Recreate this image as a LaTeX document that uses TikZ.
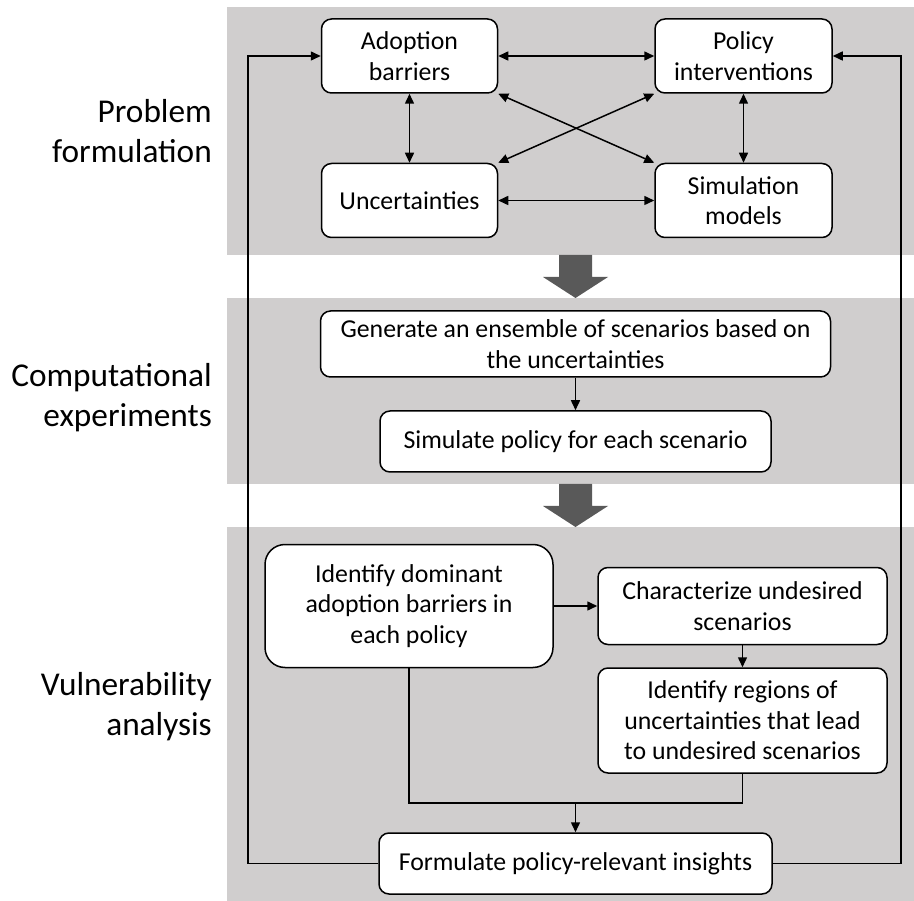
\documentclass[tikz,border=0pt]{standalone}
\usepackage{fontspec}
\setmainfont{Carlito}
\usetikzlibrary{positioning, arrows.meta}
\definecolor{bandgray}{HTML}{D0CECE}
\definecolor{bigarrow}{HTML}{595959}
\tikzstyle{band} = [fill=bandgray, draw=none]
\tikzstyle{box} = [rectangle, rounded corners=10pt, draw=black, line width=1.5pt, fill=white, align=center, inner sep=0pt, font=\fontsize{25.8}{30.5}\selectfont]
\tikzstyle{phase} = [anchor=east, align=right, inner sep=0pt, font=\fontsize{33.3}{40}\selectfont]
\tikzstyle{arrow} = [line width=1.5pt, -{Triangle[length=10pt,width=9pt]}]
\tikzstyle{twoway} = [line width=1.5pt, {Triangle[length=10pt,width=9pt]}-{Triangle[length=10pt,width=9pt]}]
\tikzstyle{link} = [line width=1.5pt]

\begin{document}
\begin{tikzpicture}[x=1pt, y=-1pt]
        \useasboundingbox (0,0) rectangle (914,901);

        % phase bands
        \fill[band] (227,7)   rectangle (914,255);
        \fill[band] (227,298) rectangle (914,484);
        \fill[band] (227,527) rectangle (914,901);

        % big arrows between phases
        \fill[bigarrow] (559,255) -- (592,255) -- (592,277) -- (608,277) -- (575.5,298) -- (543,277) -- (559,277) -- cycle;
        \fill[bigarrow] (559,484) -- (592,484) -- (592,506) -- (608,506) -- (575.5,527) -- (543,506) -- (559,506) -- cycle;

        \node[phase] (problem)   at (212,131.5) {Problem\\formulation};
        \node[phase] (computing) at (212,397.5) {Computational\\experiments};
        \node[phase] (vulner)    at (212,707)   {Vulnerability\\analysis};

        \node[box, minimum width=176pt, minimum height=74pt] (adoption)   at (409.5,56)    {Adoption\\barriers};
        \node[box, minimum width=177pt, minimum height=74pt] (policy)     at (743.5,56)    {Policy\\interventions};
        \node[box, minimum width=176pt, minimum height=74pt] (uncert)     at (409.5,200.5) {Uncertainties};
        \node[box, minimum width=177pt, minimum height=74pt] (simulation) at (743.5,200.5) {Simulation\\models};

        \node[box, minimum width=510pt, minimum height=66pt] (generate) at (575.5,344)   {Generate an ensemble of scenarios based on\\the uncertainties};
        \node[box, minimum width=391pt, minimum height=61pt] (simpol)   at (575.5,441.5) {Simulate policy for each scenario};

        \node[box, rounded corners=20pt, minimum width=288pt, minimum height=123pt] (dominant) at (409,606) {Identify dominant\\adoption barriers in\\each policy};
        \node[box, minimum width=289pt, minimum height=77pt]  (character) at (742.5,606)   {Characterize undesired\\scenarios};
        \node[box, minimum width=289pt, minimum height=105pt] (regions)   at (742.5,720.5) {Identify regions of\\uncertainties that lead\\to undesired scenarios};
        \node[box, minimum width=393pt, minimum height=61pt]  (formulate) at (575.5,863.5) {Formulate policy-relevant insights};

        \coordinate (merge) at (575.5,803);
        \coordinate (loop left)  at (248,863.5);
        \coordinate (loop right) at (901,863.5);

        \draw[twoway] (adoption) -- (policy);
        \draw[twoway] (uncert)   -- (simulation);
        \draw[twoway] (adoption) -- (uncert);
        \draw[twoway] (policy)   -- (simulation);
        \draw[twoway] (adoption.south east) -- (simulation.north west);
        \draw[twoway] (policy.south west)   -- (uncert.north east);

        \draw[arrow] (generate)  -- (simpol);
        \draw[arrow] (dominant)  -- (character);
        \draw[arrow] (character) -- (regions);
        \draw[link]  (dominant.south) |- (merge);
        \draw[link]  (regions.south)  |- (merge);
        \draw[arrow] (merge) -- (formulate);

        \draw[arrow] (formulate.west) -- (loop left)  |- (adoption.west);
        \draw[arrow] (formulate.east) -- (loop right) |- (policy.east);
    \end{tikzpicture}
\end{document}
